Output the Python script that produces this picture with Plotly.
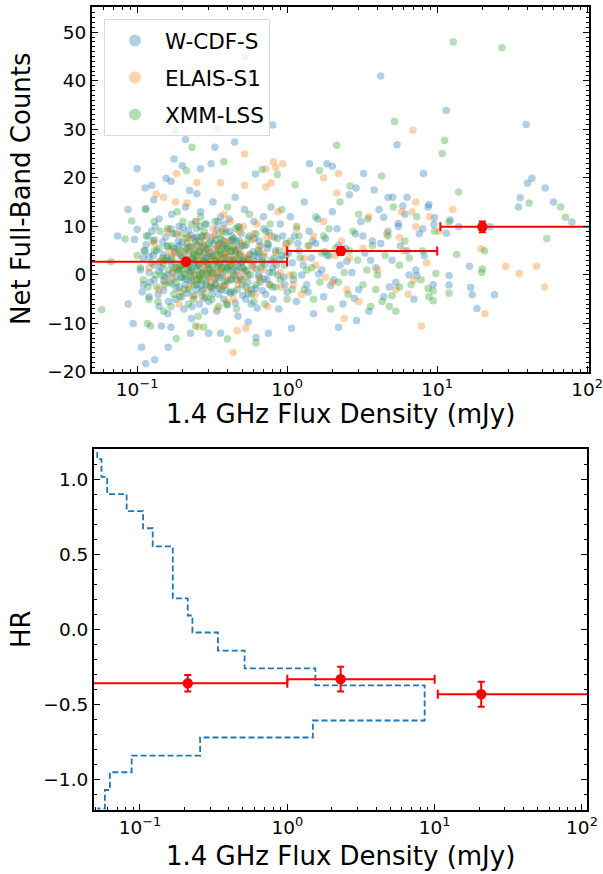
import plotly.graph_objects as go
import math

# ---------------- data ----------------
wcdfs_pts = [
    (0.11, 3.5), (0.11, -2.0), (0.115, 6.2), (0.12, 0.5), (0.12, -4.5), (0.125, 9.0), (0.13, 2.0), (0.13, -1.0),
    (0.135, 5.0), (0.14, -6.5), (0.14, 11.5), (0.145, 1.5), (0.15, 4.2), (0.15, -3.2), (0.155, 7.8), (0.16, 0.0),
    (0.16, -8.0), (0.165, 3.0), (0.17, 12.5), (0.17, -1.8), (0.175, 5.5), (0.18, -5.0), (0.18, 8.5), (0.185, 1.0),
    (0.19, -2.5), (0.19, 10.0), (0.195, 4.0), (0.2, -0.5), (0.2, 6.8), (0.205, -7.0), (0.21, 2.5), (0.21, 14.0),
    (0.215, -3.8), (0.22, 9.2), (0.22, 0.8), (0.225, 5.8), (0.23, -1.2), (0.23, -9.0), (0.235, 3.2), (0.24, 7.5),
    (0.24, -4.2), (0.245, 11.0), (0.25, 1.8), (0.25, -2.0), (0.26, 4.8), (0.26, -6.0), (0.265, 13.0), (0.27, 0.2),
    (0.27, 8.0), (0.275, -3.0), (0.28, 2.8), (0.28, 6.0), (0.29, -1.5), (0.29, 10.5), (0.3, -5.5), (0.3, 3.8),
    (0.31, 0.5), (0.31, 7.0), (0.32, -2.8), (0.32, 15.0), (0.33, 5.2), (0.33, -0.8), (0.34, 9.5), (0.34, -7.5),
    (0.35, 2.2), (0.35, -4.0), (0.36, 6.5), (0.36, 12.0), (0.37, 0.0), (0.38, 4.5), (0.38, -2.2), (0.39, 8.8),
    (0.4, -6.2), (0.4, 1.5), (0.41, 11.5), (0.42, 3.0), (0.42, -1.0), (0.43, 7.2), (0.44, -3.5), (0.45, 5.0),
    (0.45, 16.0), (0.46, 0.8), (0.47, -8.5), (0.48, 9.8), (0.49, 2.5), (0.5, -2.0), (0.5, 6.0), (0.52, 13.5),
    (0.53, -5.0), (0.54, 3.5), (0.55, 0.0), (0.56, 8.0), (0.58, -3.0), (0.59, 4.8), (0.6, 11.0), (0.62, 1.2),
    (0.63, -6.8), (0.65, 7.0), (0.66, -1.5), (0.68, 3.0), (0.7, 9.5), (0.72, -4.0), (0.74, 5.5), (0.76, 0.5),
    (0.78, 14.0), (0.8, -2.5), (0.82, 7.8), (0.85, 2.0), (0.88, -7.0), (0.9, 10.5), (0.92, 4.0), (0.95, -0.5),
    (0.98, 6.5), (1.0, -3.5), (1.05, 12.0), (1.08, 2.5), (1.12, 8.0), (1.15, -5.5), (1.2, 5.0), (1.25, 0.0),
    (1.3, 15.0), (1.35, -2.0), (1.4, 9.0), (1.45, 3.5), (1.5, -8.0), (1.55, 6.5), (1.6, 11.5), (1.7, 1.0),
    (1.75, -4.5), (1.8, 7.5), (1.9, 4.0), (2.0, 13.0), (2.05, -1.0), (2.15, 9.5), (2.25, 2.0), (2.35, -6.0),
    (2.45, 5.5), (2.6, 16.5), (2.7, 0.5), (2.85, 8.5), (3.0, -3.0), (3.1, 11.0), (3.3, 4.5), (3.5, -7.5),
    (3.7, 7.0), (3.9, 1.5), (4.1, 13.5), (4.4, -4.5), (4.7, 9.0), (5.0, 3.0), (5.3, -1.5), (5.7, 6.0),
    (6.1, 12.5), (6.5, 0.0), (7.0, -5.0), (7.6, 8.5), (8.2, 4.0), (8.8, 14.5), (9.4, -2.0),
    (0.16, 5.8), (0.17, 2.2), (0.18, -0.5), (0.19, 6.0), (0.2, 3.5), (0.21, -2.0), (0.22, 4.5), (0.23, 1.0),
    (0.24, 2.5), (0.25, 7.8), (0.26, -0.8), (0.27, 3.8), (0.28, -4.8), (0.29, 5.2), (0.3, 1.2), (0.31, -2.5),
    (0.32, 4.0), (0.33, 8.2), (0.34, 0.5), (0.35, 6.2), (0.36, -0.5), (0.37, 3.3), (0.38, 10.5), (0.39, -3.2),
    (0.4, 5.5), (0.42, 1.8), (0.44, 7.5), (0.46, -1.0), (0.48, 4.2), (0.5, 1.5), (0.12, 3.8), (0.13, 7.2),
    (0.14, 0.8), (0.15, -1.2), (0.55, -3.8), (0.6, 2.8), (0.65, 4.5), (0.7, -0.8), (0.75, 6.2), (0.8, 1.5),
    (0.105, 1.0), (0.108, -3.5), (0.112, 5.0), (0.118, 8.0), (0.122, -1.5), (0.128, 4.0), (0.132, 10.0),
    (0.138, -4.0), (0.142, 2.8), (0.148, 6.8), (0.152, -0.3), (0.158, 3.6), (0.162, -5.5), (0.168, 9.5),
    (0.172, 0.5), (0.178, 4.8), (0.182, -2.8), (0.188, 7.0), (0.192, 1.8), (0.198, -4.5), (0.202, 9.8),
    (0.207, 0.2), (0.212, 5.5), (0.218, -1.0), (0.222, 2.0), (0.228, 8.2), (0.232, -6.5), (0.238, 4.2),
    (0.242, 0.0), (0.248, -3.0), (0.252, 6.0), (0.258, 2.2), (0.262, 10.0), (0.268, -2.2), (0.272, 5.8),
    (0.278, 1.0), (0.282, -7.5), (0.288, 3.5), (0.292, 8.0), (0.298, -0.5), (0.305, 4.5), (0.315, -4.0),
    (0.318, 2.0), (0.325, 6.5), (0.335, -1.8), (0.338, 3.0), (0.345, 11.0), (0.352, -2.8), (0.358, 4.8),
    (0.365, 1.2), (0.372, 7.2), (0.378, -5.0), (0.385, 2.5), (0.392, 6.0), (0.398, -1.2), (0.405, 3.8),
    (0.412, 9.0), (0.418, -3.8), (0.425, 5.0), (0.435, 0.5), (0.442, 3.2), (0.452, -5.8), (0.458, 7.0),
    (0.465, 2.0), (0.475, 5.5), (0.485, -0.5), (0.495, 8.5), (0.505, -4.2), (0.515, 3.0), (0.525, 0.8),
    (0.535, 6.2), (0.548, -1.5), (0.565, 4.2), (0.575, -6.0), (0.585, 2.0), (0.605, 7.5), (0.615, -2.8),
    (0.635, 3.8), (0.645, 0.0), (0.665, 6.0), (0.685, -3.2), (0.695, 12.0), (0.715, 2.2), (0.735, -1.0),
    (0.755, 8.8), (0.785, 3.0), (0.805, -5.0), (0.835, 5.0), (0.865, 0.0), (0.895, 3.2), (0.935, 8.0),
    (0.965, -2.0), (1.02, 4.5), (1.1, -1.0), (1.18, 6.5), (1.28, 2.0), (1.38, -3.5), (1.48, 7.0), (1.62, 0.2),
    (1.78, 4.8), (1.95, -2.2), (2.2, 6.0), (2.5, 2.8), (2.8, -4.8), (3.2, 8.0), (3.6, 3.0), (4.2, 6.5),
    (4.8, -2.5), (5.5, 10.0), (6.3, 5.0), (7.2, 1.0), (8.0, 9.5),
    (4.2, 41.0), (11.5, 33.9), (39.2, 31.0), (5.4, 26.8), (1.41, 22.9), (1.84, 22.9), (2.0, 22.4), (3.23, 20.9),
    (8.1, 20.9), (40.0, 18.9), (42.8, 19.9), (52.5, 17.9), (2.88, 17.9), (3.8, 17.5), (4.7, 16.0), (5.06, 16.0),
    (6.3, 16.0), (59.7, 15.0), (79.0, 10.9), (35.7, 15.9), (34.8, 14.0), (12.2, 11.3), (13.9, 9.9), (22.5, 9.9),
    (11.5, 8.6), (8.7, 14.0), (9.5, 10.4), (9.6, 11.8), (5.9, 14.2), (4.4, 11.9), (5.5, 10.6), (16.4, 1.8),
    (12.0, -0.1), (12.0, -2.1), (16.7, -2.6), (17.1, -4.1), (24.1, -4.1), (18.4, -6.9), (7.3, -0.1), (2.9, -9.4),
    (2.2, -10.8), (0.087, -6.0), (0.094, -10.0), (0.107, -14.9), (0.114, -18.3), (0.131, -17.5), (0.161, -14.9),
    (0.145, -10.5), (0.168, -10.8), (0.227, -12.0), (0.30, -12.0), (0.36, -12.0), (0.55, -9.7), (0.62, -12.9),
    (0.75, -12.0), (1.07, -11.0), (0.18, 29.8), (0.345, 30.2), (0.8, 30.9), (0.21, 27.9), (0.33, 26.3),
    (0.447, 27.4), (0.1, 21.9), (0.2, 22.5), (0.176, 23.9), (0.264, 21.9), (0.311, 22.9), (0.615, 20.8),
    (0.156, 19.9), (0.168, 19.3), (0.113, 17.9), (0.125, 18.4), (0.224, 17.4), (0.25, 16.7), (0.087, 13.5),
    (0.114, 13.7), (0.129, 15.5), (0.074, 8.0), (0.096, 7.3), (0.1, 9.4), (0.52, 44.8), (0.54, 39.8),
]

elais_pts = [
    (0.12, 1.5), (0.13, 6.5), (0.14, -3.0), (0.15, 3.0), (0.16, 9.0), (0.17, -0.5), (0.18, 4.5), (0.19, -6.0),
    (0.2, 2.0), (0.21, 7.5), (0.22, -2.5), (0.23, 5.0), (0.24, 0.0), (0.25, 11.0), (0.26, 3.5), (0.27, -4.5),
    (0.28, 8.0), (0.29, 1.0), (0.3, 5.5), (0.31, -1.5), (0.32, 9.5), (0.33, 2.8), (0.34, -7.0), (0.35, 6.0),
    (0.36, 0.5), (0.37, 4.0), (0.38, 12.5), (0.39, -2.0), (0.4, 7.0), (0.42, 2.0), (0.44, -5.0), (0.46, 5.2),
    (0.48, 9.0), (0.5, 0.8), (0.52, 3.5), (0.55, -3.0), (0.58, 7.2), (0.6, 1.5), (0.63, 10.5), (0.66, -1.0),
    (0.7, 4.5), (0.74, -6.5), (0.78, 8.0), (0.82, 2.5), (0.87, 13.0), (0.92, -2.5), (0.97, 5.5), (1.05, 0.0),
    (1.15, 9.5), (1.25, -4.0), (1.4, 6.0), (1.55, 2.0), (1.75, 11.0), (2.0, -1.5), (2.3, 7.0), (2.6, 3.5),
    (3.0, -5.5), (3.5, 12.0), (4.0, 1.0), (4.6, 8.5), (5.3, -3.0), (6.0, 5.0), (7.2, 10.0), (8.5, 2.5),
    (0.2, 4.8), (0.22, 3.2), (0.25, 6.2), (0.27, 2.5), (0.3, -0.2), (0.33, 4.5), (0.36, 3.0), (0.4, -0.5),
    (0.45, 3.8), (0.5, 6.5), (0.55, 4.0), (0.24, -1.5), (0.28, 5.0), (0.32, 0.2), (0.35, 8.5), (0.42, 11.0),
    (0.14, 2.5), (0.155, -1.5), (0.165, 5.0), (0.175, 1.0), (0.185, 8.5), (0.195, -3.5), (0.205, 3.5),
    (0.215, 0.5), (0.225, 7.5), (0.235, -4.5), (0.245, 2.8), (0.255, 4.8), (0.265, -1.0), (0.275, 6.5),
    (0.285, 2.0), (0.295, -3.0), (0.305, 4.0), (0.315, 7.8), (0.325, -0.8), (0.335, 3.0), (0.345, 5.8),
    (0.355, -2.5), (0.365, 1.8), (0.375, 9.5), (0.385, 4.2), (0.395, -5.5), (0.41, 3.2), (0.43, 6.0),
    (0.45, 0.0), (0.47, -2.0), (0.49, 4.5), (0.51, 10.0), (0.53, -0.5), (0.57, 2.5), (0.61, -4.0), (0.65, 5.8),
    (0.69, 1.0), (0.73, 7.5), (0.77, -2.0), (0.84, 4.5), (0.9, 0.5), (1.0, 6.5), (1.1, -2.0), (1.3, 3.5),
    (1.5, 8.0), (1.8, -0.5), (2.1, 4.0), (2.5, -3.0), (3.2, 5.5), (0.3, 2.2), (0.26, 0.5), (0.34, 1.0),
    (0.38, 6.8), (0.22, 5.8), (0.44, 2.8), (0.48, -1.0), (0.6, 8.5), (0.19, 1.2), (0.17, 4.0), (0.4, 4.8),
    (6.9, 29.8), (1.75, 20.0), (2.2, 20.9), (2.14, 16.9), (12.7, 13.5), (10.3, 9.0), (8.9, 12.0), (7.2, 15.0),
    (5.8, 13.0), (6.8, 13.0), (5.6, 7.7), (19.6, 5.4), (28.7, 1.8), (35.2, 0.3), (45.9, 1.8), (51.9, -2.5),
    (20.8, -8.0), (7.85, -10.5), (6.4, -4.0), (7.0, -1.1), (2.4, -9.0), (0.255, -10.7), (0.437, -16.0),
    (0.464, -11.5), (0.53, -11.0), (0.52, 24.9), (0.81, 23.3), (0.935, 22.9), (0.72, 21.8), (0.84, 22.2),
    (0.183, 20.9), (0.25, 19.0), (0.36, 19.0), (0.52, 18.5), (0.78, 19.0), (0.72, 18.1), (0.134, 16.6),
    (0.15, 16.0), (0.18, 15.0), (0.215, 14.8),
]

xmm_pts = [
    (0.1, 4.0), (0.11, -1.0), (0.115, 8.0), (0.12, -5.0), (0.125, 2.5), (0.13, 11.0), (0.135, -2.5), (0.14, 5.5),
    (0.145, 0.0), (0.15, -7.5), (0.155, 3.0), (0.16, 9.5), (0.165, -1.5), (0.17, 6.0), (0.175, -4.0), (0.18, 1.5),
    (0.185, 13.0), (0.19, 4.5), (0.195, -0.5), (0.2, 8.5), (0.205, -3.0), (0.21, 2.0), (0.215, 6.5), (0.22, -6.0),
    (0.225, 0.5), (0.23, 10.5), (0.235, 3.5), (0.24, -2.0), (0.245, 7.0), (0.25, 1.0), (0.255, -8.5), (0.26, 5.0),
    (0.265, 12.0), (0.27, -1.0), (0.275, 3.0), (0.28, 9.0), (0.285, -4.5), (0.29, 2.5), (0.3, 6.5), (0.31, -2.5),
    (0.32, 0.5), (0.33, 11.0), (0.34, 4.0), (0.35, -6.5), (0.36, 7.5), (0.37, 1.5), (0.38, -1.5), (0.39, 5.5),
    (0.4, 14.0), (0.41, 2.0), (0.42, -3.5), (0.43, 8.0), (0.44, 0.0), (0.45, 4.5), (0.46, -7.0), (0.47, 10.0),
    (0.48, 3.0), (0.5, -1.0), (0.52, 6.0), (0.54, 1.0), (0.56, 12.5), (0.58, -4.0), (0.6, 4.0), (0.62, 8.5),
    (0.65, -0.5), (0.68, 2.5), (0.71, -6.0), (0.74, 6.5), (0.77, 10.5), (0.8, 0.5), (0.84, -2.5), (0.88, 5.0),
    (0.92, 13.5), (0.96, 2.0), (1.0, -5.0), (1.05, 7.0), (1.1, 0.0), (1.16, 10.0), (1.22, 3.5), (1.3, -3.0),
    (1.38, 6.0), (1.46, 1.5), (1.55, 12.0), (1.65, -1.5), (1.75, 8.0), (1.85, 4.0), (1.95, -7.0), (2.1, 5.5),
    (2.25, 15.0), (2.4, 0.5), (2.55, -4.0), (2.75, 9.0), (2.95, 3.0), (3.2, -2.0), (3.45, 11.5), (3.7, 6.0),
    (4.0, 0.0), (4.3, -5.5), (4.7, 8.0), (5.1, 14.0), (5.6, 2.0), (6.1, 7.0), (6.7, -2.0), (7.3, 12.0),
    (8.0, 5.0), (8.8, -4.5), (9.6, 9.0), (0.17, 3.5), (0.19, 0.8), (0.21, 5.0), (0.23, -0.5), (0.25, 4.0),
    (0.27, 7.8), (0.29, 0.0), (0.31, 3.8), (0.33, -2.0), (0.35, 5.2), (0.37, 9.0), (0.39, 1.0), (0.42, 4.8),
    (0.45, 1.5), (0.48, 7.0), (0.15, 2.2), (0.13, 5.0), (0.55, 3.2), (0.62, -2.0), (0.7, 3.8),
    (0.105, 1.5), (0.112, 5.0), (0.118, -2.5), (0.128, 7.0), (0.132, 0.0), (0.138, -5.5), (0.142, 9.0),
    (0.148, 3.5), (0.152, -2.0), (0.158, 6.0), (0.162, 1.0), (0.168, -6.5), (0.172, 8.5), (0.178, 2.5),
    (0.182, -1.5), (0.188, 5.5), (0.192, -4.5), (0.198, 2.0), (0.202, 11.0), (0.208, -0.8), (0.212, 3.2),
    (0.218, 7.8), (0.222, -3.0), (0.228, 1.5), (0.232, 5.8), (0.238, -5.0), (0.242, 3.0), (0.248, 9.5),
    (0.252, -1.0), (0.258, 2.0), (0.262, 6.8), (0.268, -3.5), (0.272, 0.5), (0.278, 4.5), (0.282, 10.5),
    (0.288, -2.0), (0.295, 5.5), (0.305, 1.0), (0.315, -5.0), (0.325, 3.0), (0.335, 7.2), (0.345, -0.5),
    (0.355, 2.5), (0.365, -3.0), (0.375, 6.0), (0.385, 3.5), (0.395, -6.0), (0.405, 1.0), (0.415, 7.0),
    (0.425, -1.0), (0.435, 3.0), (0.455, 9.5), (0.465, -3.0), (0.485, 4.0), (0.51, 1.5), (0.53, -2.5),
    (0.55, 7.5), (0.57, 0.0), (0.6, -5.5), (0.64, 5.0), (0.67, 1.5), (0.72, 9.0), (0.76, -2.0), (0.82, 3.5),
    (0.86, 7.5), (0.9, -1.0), (0.98, 4.0), (1.08, -3.0), (1.2, 8.0), (1.35, 1.0), (1.5, -5.0), (1.7, 4.5),
    (1.9, 9.5), (2.2, -1.5), (2.6, 5.0), (3.0, 12.5), (3.4, 1.0), (3.9, -3.0), (4.5, 4.0), (5.3, -7.5),
    (6.5, 3.5), (7.8, -1.0), (0.24, 4.5), (0.3, 2.2), (0.26, -0.2), (0.34, 1.8), (0.2, 1.0), (0.36, 4.2),
    (0.44, 5.8), (0.5, 2.8),
    (12.8, 48.0), (27.0, 46.8), (5.2, 31.6), (11.2, 27.7), (2.14, 26.7), (10.8, 25.0), (1.64, 21.5), (4.26, 20.4),
    (13.9, 17.1), (2.63, 18.3), (66.5, 14.0), (71.6, 11.9), (41.0, 14.8), (53.8, 7.5), (12.0, 10.9), (13.5, 4.2),
    (20.7, 5.0), (20.0, 1.2), (19.8, 0.5), (9.8, 0.3), (12.0, -3.8), (9.4, -5.3), (8.7, -2.8), (9.4, -3.3),
    (5.6, -2.5), (5.0, -4.3), (4.8, -6.5), (3.6, -6.5), (0.058, -7.2), (0.117, -10.0), (0.123, -10.5),
    (0.182, -13.1), (0.245, -10.5), (0.278, -10.8), (0.4, -13.2), (0.62, -14.0), (0.232, 26.3), (0.378, 23.3),
    (0.68, 21.7), (0.86, 20.7), (0.213, 21.5), (1.13, 18.6), (0.092, 11.1), (0.083, 7.4), (0.114, 13.5),
    (0.067, 2.7),
]

# binned means (top panel): flux centre, counts, count error, bin lower / upper edge
bin_flux = [0.212, 2.28, 20.0]
bin_counts = [2.73, 4.93, 9.9]
bin_counts_err = [0.5, 0.8, 1.1]
bin_lo = [0.03, 1.0, 10.5]
bin_hi = [1.0, 10.0, 200.0]

# binned HR (bottom panel)
hr_flux = [0.211, 2.30, 20.7]
hr_vals = [-0.358, -0.33, -0.43]
hr_err = [0.055, 0.083, 0.083]

# stepped dashed envelope (bottom panel)
env_x = [0.0513, 0.0548, 0.0599, 0.0812, 0.105, 0.122, 0.167, 0.211, 0.227, 0.338, 0.513, 1.55, 8.55,
         1.49, 0.256, 0.0878, 0.0625, 0.0578, 0.0513]
env_y = [1.30, 1.133, 1.015, 0.90, 0.787, 0.673, 0.553, 0.207, 0.093, -0.02, -0.14, -0.258, -0.371,
         -0.605, -0.718, -0.838, -0.949, -1.067, -1.19]

series = [("W-CDF-S", wcdfs_pts, "#1f77b4"),
          ("ELAIS-S1", elais_pts, "#ff7f0e"),
          ("XMM-LSS", xmm_pts, "#2ca02c")]

# ---------------- figure ----------------
W, H = 603, 874
FONT = "DejaVu Sans"
fig = go.Figure()

for name, pts, col in series:
    xs = [p[0] for p in pts]
    ys = [p[1] for p in pts]
    fig.add_trace(go.Scatter(x=xs, y=ys, mode="markers", name=name, legendgroup=name,
                             marker=dict(color=col, size=7.5, opacity=0.35, line=dict(width=0)),
                             xaxis="x", yaxis="y"))

fig.add_trace(go.Scatter(
    x=bin_flux, y=bin_counts, mode="markers", showlegend=False,
    marker=dict(color="red", size=10.5),
    error_x=dict(type="data", symmetric=False,
                 array=[h - c for h, c in zip(bin_hi, bin_flux)],
                 arrayminus=[c - l for c, l in zip(bin_flux, bin_lo)],
                 color="red", thickness=2, width=4.5),
    error_y=dict(type="data", array=bin_counts_err, color="red", thickness=2, width=3.5),
    xaxis="x", yaxis="y"))

fig.add_trace(go.Scatter(
    x=env_x, y=env_y, mode="lines", line_shape="vh", showlegend=False,
    line=dict(color="#1f77b4", width=1.8, dash="6px,3px"),
    xaxis="x2", yaxis="y2"))

fig.add_trace(go.Scatter(
    x=hr_flux, y=hr_vals, mode="markers", showlegend=False,
    marker=dict(color="red", size=10.5),
    error_x=dict(type="data", symmetric=False,
                 array=[h - c for h, c in zip(bin_hi, hr_flux)],
                 arrayminus=[c - l for c, l in zip(hr_flux, bin_lo)],
                 color="red", thickness=2, width=4.5),
    error_y=dict(type="data", array=hr_err, color="red", thickness=2, width=3.5),
    xaxis="x2", yaxis="y2"))

decades = [0.01, 0.1, 1, 10, 100]
minor_vals = [d * k for d in decades for k in range(2, 10)]
log_ticks = [0.1, 1, 10, 100]
log_text = ["10<sup>−1</sup>", "10<sup>0</sup>", "10<sup>1</sup>", "10<sup>2</sup>"]


def top_px(p):
    return 1 - p / H


tick_font = dict(family=FONT, size=18.5, color="black")
common = dict(showgrid=False, zeroline=False, showline=True, linecolor="black", linewidth=2,
              ticks="inside", ticklen=6, tickwidth=1.3, tickcolor="black", tickfont=tick_font,
              automargin=False, ticklabeloverflow="allow")
minor_common = dict(ticks="inside", ticklen=3, tickwidth=1, tickcolor="black")
title_font = dict(family=FONT, size=26, color="black")

fig.update_layout(
    width=W, height=H, margin=dict(l=0, r=0, t=0, b=0, autoexpand=False),
    paper_bgcolor="white", plot_bgcolor="white",
    font=dict(family=FONT, color="black"),
    xaxis=dict(type="log", domain=[92 / W, 589 / W], anchor="y",
               range=[math.log10(0.05), 2.012], tickvals=log_ticks, ticktext=log_text,
               mirror="allticks", minor=dict(tickvals=minor_vals, **minor_common), **common),
    yaxis=dict(domain=[top_px(372), top_px(7)], anchor="x", range=[-20, 55.2], dtick=10,
               mirror="allticks", minor=dict(dtick=1, **minor_common), **common),
    xaxis2=dict(type="log", domain=[94 / W, 587 / W], anchor="y2",
                range=[-1.312, 2.034], tickvals=log_ticks, ticktext=log_text,
                mirror=True, minor=dict(tickvals=minor_vals, **minor_common), **common),
    yaxis2=dict(domain=[top_px(810), top_px(449)], anchor="x2", range=[-1.2, 1.2], dtick=0.5,
                tickformat=".1f", mirror="allticks", minor=dict(dtick=0.1, **minor_common), **common),
    legend=dict(x=104 / W, y=top_px(19), xanchor="left", yanchor="top",
                bgcolor="rgba(255,255,255,0.8)", bordercolor="#d9d9d9", borderwidth=1,
                traceorder="grouped", tracegroupgap=6, itemwidth=50,
                font=dict(family=FONT, size=21.5, color="black"), itemsizing="constant"),
    annotations=[
        dict(text="Net Full-Band Counts", x=21 / W, y=top_px(189), xref="paper", yref="paper",
             xanchor="center", yanchor="middle", textangle=-90, showarrow=False, font=title_font),
        dict(text="1.4 GHz Flux Density (mJy)", x=340 / W, y=top_px(414), xref="paper", yref="paper",
             xanchor="center", yanchor="middle", showarrow=False, font=title_font),
        dict(text="HR", x=21 / W, y=top_px(629), xref="paper", yref="paper",
             xanchor="center", yanchor="middle", textangle=-90, showarrow=False, font=title_font),
        dict(text="1.4 GHz Flux Density (mJy)", x=340 / W, y=top_px(856), xref="paper", yref="paper",
             xanchor="center", yanchor="middle", showarrow=False, font=title_font),
    ],
)

fig.write_html("out.html")
